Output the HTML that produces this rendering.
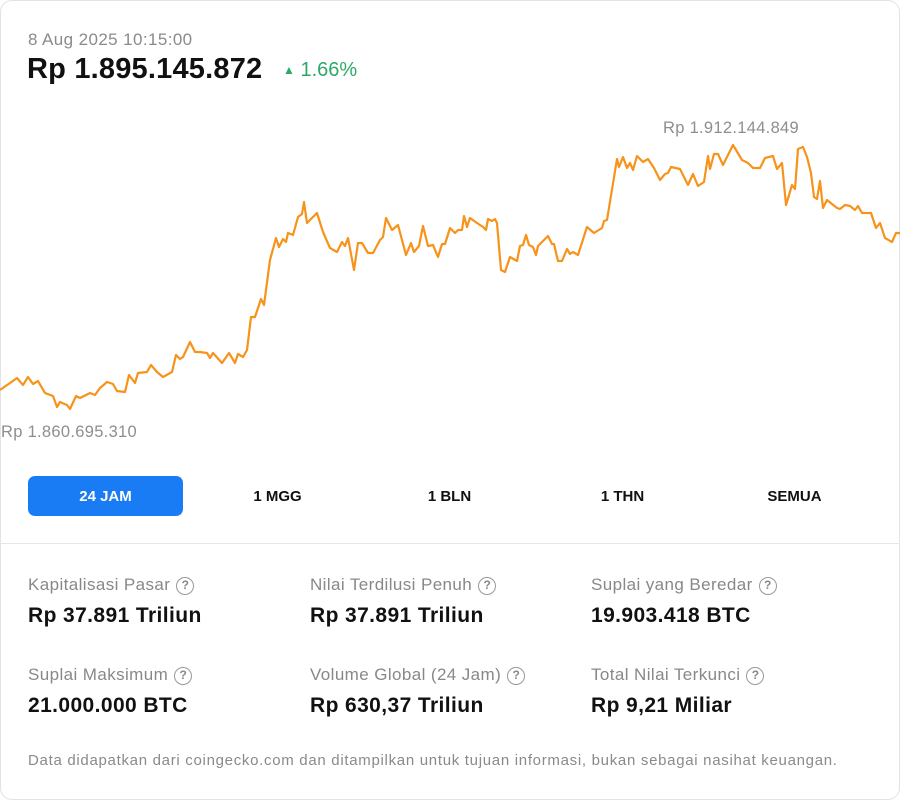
<!DOCTYPE html>
<html><head><meta charset="utf-8"><style>
*{margin:0;padding:0;box-sizing:border-box}
body{width:900px;height:800px;background:#fff;font-family:"Liberation Sans",sans-serif;position:relative;overflow:hidden}
.card{position:absolute;left:0;top:0;width:900px;height:800px;border:1px solid #e3e3e6;border-radius:12px}
.abs{position:absolute;white-space:nowrap}
.date{left:28px;top:30px;font-size:17px;color:#8a8a8e;letter-spacing:0.4px}
.price{left:27px;top:53px;font-size:29px;font-weight:bold;color:#111;letter-spacing:0.2px}
.chg{left:283px;top:59px;font-size:20px;color:#2fa866}
.lbl{font-size:16.5px;color:#8e8e92;letter-spacing:0.3px}
.tab{top:476px;height:40px;width:155px;font-size:15px;font-weight:bold;color:#111;display:flex;align-items:center;justify-content:center;border-radius:7px}
.sl{font-size:17px;color:#88888c;letter-spacing:0.4px}
.sv{font-size:21px;font-weight:bold;color:#111;letter-spacing:0.4px}
.q{display:inline-block;width:18px;height:18px;border:1.5px solid #999;border-radius:50%;font-size:12px;text-align:center;line-height:15px;color:#888;margin-left:6px;vertical-align:1px;font-weight:bold;letter-spacing:0}
</style></head><body>
<div class="card"></div>
<div class="abs date">8 Aug 2025 10:15:00</div>
<div class="abs price">Rp 1.895.145.872</div>
<div class="abs chg"><span style="font-size:12px;vertical-align:2px">▲</span> 1.66%</div>
<svg class="abs" style="left:0;top:0" width="900" height="460">
<polyline fill="none" stroke="#f7931a" stroke-width="2.2" stroke-linejoin="round" points="0,390 10,383 17,378 23,385 28,377 33,384 38,381 45,393 53,396 57,407 60,402 67,405 70,409 76,396 80,398 90,393 95,395 100,388 107,382 113,384 117,391 125,392 129,375 135,383 138,373 147,372 151,365 157,372 163,377 172,372 176,355 180,359 183,357 190,342 195,352 200,352 207,353 210,358 213,353 222,363 229,353 235,363 238,354 243,357 247,350 251,317 255,317 261,299 264,305 270,260 276,238 279,247 283,239 286,242 288,233 293,235 298,217 302,214 304,202 307,223 317,213 323,232 330,248 337,252 342,242 345,246 348,238 354,270 358,243 362,243 368,253 373,253 380,240 383,237 386,218 392,230 398,225 406,255 411,243 414,252 419,246 423,226 428,246 433,245 438,257 442,244 445,244 450,228 455,233 458,230 462,230 464,216 467,227 470,218 477,223 483,227 486,230 488,219 492,221 495,219 497,223 501,270 505,272 510,257 517,261 520,246 523,245 526,235 529,245 533,247 536,255 538,246 548,236 552,244 554,244 558,261 562,261 567,249 570,254 573,252 578,255 587,227 594,233 602,228 604,221 607,220 617,159 619,167 623,157 627,168 630,163 633,170 637,156 643,162 648,159 654,168 660,180 665,174 668,173 671,167 680,169 688,185 693,174 698,186 704,182 708,156 710,169 714,154 718,154 723,165 733,145 742,160 748,163 753,168 760,168 765,158 773,156 777,169 782,163 786,205 792,185 795,189 798,149 803,147 807,157 811,173 814,197 817,199 820,181 823,208 827,200 837,208 840,209 845,205 850,206 855,210 858,206 862,213 871,213 876,228 880,223 885,238 892,242 896,233 900,233"/>
</svg>
<div class="abs lbl" style="left:663px;top:119px">Rp 1.912.144.849</div>
<div class="abs lbl" style="left:1px;top:423px">Rp 1.860.695.310</div>
<div class="abs tab" style="left:28px;background:#1a7cf5;color:#fff">24 JAM</div>
<div class="abs tab" style="left:200px">1 MGG</div>
<div class="abs tab" style="left:372px">1 BLN</div>
<div class="abs tab" style="left:545px">1 THN</div>
<div class="abs tab" style="left:717px">SEMUA</div>
<div class="abs" style="left:0;top:543px;width:900px;height:1px;background:#e6e6e9"></div>
<div class="abs sl" style="left:28px;top:575px">Kapitalisasi Pasar<span class="q">?</span></div>
<div class="abs sv" style="left:28px;top:604px">Rp 37.891 Triliun</div>
<div class="abs sl" style="left:310px;top:575px">Nilai Terdilusi Penuh<span class="q">?</span></div>
<div class="abs sv" style="left:310px;top:604px">Rp 37.891 Triliun</div>
<div class="abs sl" style="left:591px;top:575px">Suplai yang Beredar<span class="q">?</span></div>
<div class="abs sv" style="left:591px;top:604px">19.903.418 BTC</div>
<div class="abs sl" style="left:28px;top:665px">Suplai Maksimum<span class="q">?</span></div>
<div class="abs sv" style="left:28px;top:694px">21.000.000 BTC</div>
<div class="abs sl" style="left:310px;top:665px">Volume Global (24 Jam)<span class="q">?</span></div>
<div class="abs sv" style="left:310px;top:694px">Rp 630,37 Triliun</div>
<div class="abs sl" style="left:591px;top:665px">Total Nilai Terkunci<span class="q">?</span></div>
<div class="abs sv" style="left:591px;top:694px">Rp 9,21 Miliar</div>
<div class="abs" style="left:28px;top:752px;font-size:15px;color:#8a8a8e;letter-spacing:0.7px">Data didapatkan dari coingecko.com dan ditampilkan untuk tujuan informasi, bukan sebagai nasihat keuangan.</div>
</body></html>
